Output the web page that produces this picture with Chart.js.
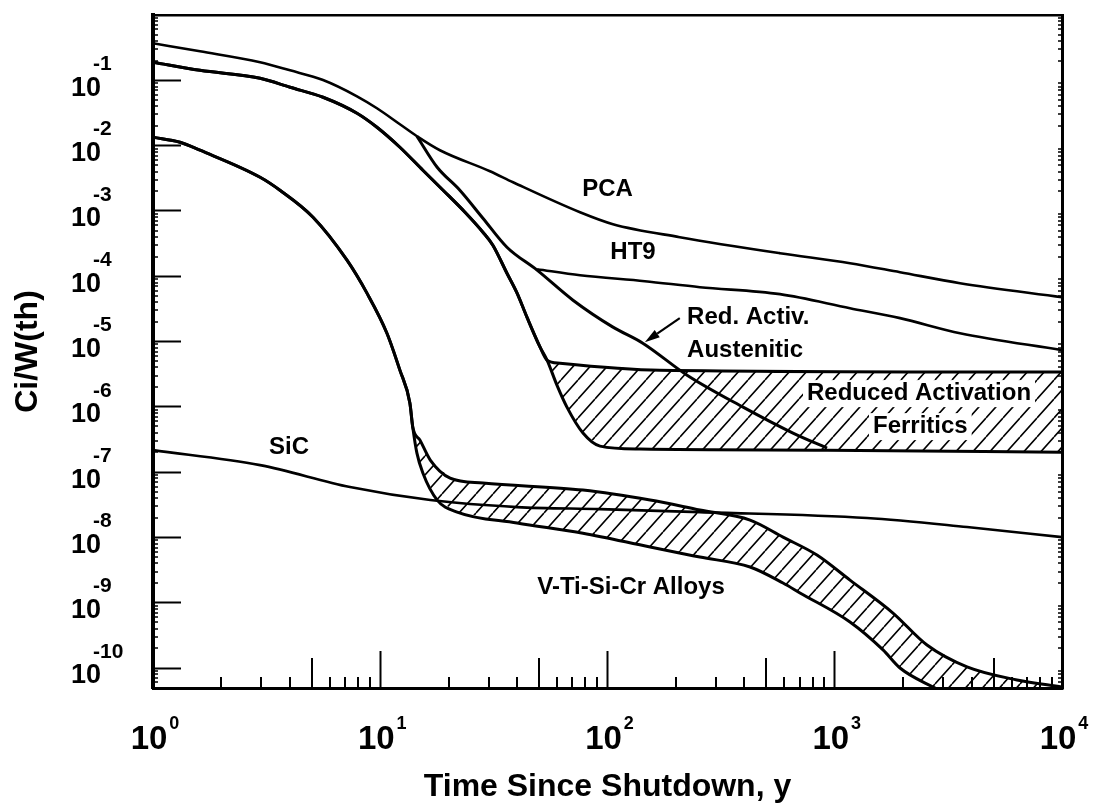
<!DOCTYPE html>
<html>
<head>
<meta charset="utf-8">
<script src="https://cdn.jsdelivr.net/npm/chart.js@4.4.1/dist/chart.umd.min.js"></script>
<style>
  html, body { margin: 0; padding: 0; background: #fff; }
  #wrap { width: 1096px; height: 806px; }
</style>
</head>
<body>
<div id="wrap"><canvas id="c" width="1096" height="806"></canvas></div>
<script>
// ---------------- DATA ----------------
const xTickValues = [1, 10, 100, 1000, 10000];
const yTickValues = [1e-1, 1e-2, 1e-3, 1e-4, 1e-5, 1e-6, 1e-7, 1e-8, 1e-9, 1e-10];
const minorMultipliers = [2, 3, 4, 5, 6, 7, 8, 9];

// PCA
const pcaTime = [1, 1.61, 2.96, 4.01, 5.60, 7.90, 9.67, 12.2, 14.5, 18.3, 30.4, 38.4, 75.7, 105.7, 208, 574, 1167, 1937, 3558, 10000];
const pcaAct  = [0.369, 0.278, 0.189, 0.142, 0.101, 0.0569, 0.0373, 0.02123, 0.01391, 0.00849, 0.00405, 0.002749, 9.54e-4, 6.26e-4, 3.96e-4, 2.25e-4, 1.58e-4, 1.15e-4, 7.82e-5, 4.77e-5];

// HT9
const ht9Time = [49.0, 75.7, 146, 255, 574, 1167, 1937, 3558, 10000];
const ht9Act  = [1.28e-4, 1.036e-4, 8.39e-5, 6.79e-5, 5.31e-5, 3.24e-5, 2.28e-5, 1.34e-5, 7.37e-6];

// Reduced activation austenitic
const ausTime = [14.5, 17.8, 22.4, 28.3, 36.1, 49.0, 70.5, 105.7, 143, 224, 395, 655, 925];
const ausAct  = [0.01391, 0.004664, 0.002074, 7.73e-4, 2.78e-4, 1.237e-4, 4.29e-5, 1.66e-5, 9.43e-6, 3.05e-6, 9.89e-7, 3.96e-7, 2.33e-7];

// Reduced activation ferritics (common part, upper and lower bounds)
const ferCommonTime = [1, 1.61, 2.96, 4.01, 5.60, 7.90, 9.67, 12.2, 15.4, 18.9, 23.6, 28.3, 31.3, 36.1, 40.0, 44.2, 50.5, 54.2];
const ferCommonAct  = [0.189, 0.142, 0.1074, 0.0782, 0.0550, 0.0313, 0.0191, 0.00944, 0.004195, 0.002074, 9.54e-4, 4.72e-4, 2.98e-4, 1.11e-4, 5.50e-5, 2.36e-5, 8.19e-6, 5.18e-6];
const ferUpperTime = [61.8, 170, 10000];
const ferUpperAct  = [4.66e-6, 3.64e-6, 3.40e-6];
const ferLowerTime = [59.9, 66.3, 78.0, 92.7, 139, 925, 10000];
const ferLowerAct  = [2.15e-6, 9.89e-7, 3.96e-7, 2.50e-7, 2.25e-7, 2.17e-7, 2.02e-7];

// V-Ti-Si-Cr alloys (common part, upper and lower bounds)
const vtiCommonTime = [1, 1.315, 1.61, 2.96, 3.62, 5.06, 7.14, 8.74, 10.7, 12.2, 13.5, 13.9];
const vtiCommonAct  = [0.01342, 0.01126, 0.00849, 0.003279, 0.002074, 8.01e-4, 1.76e-4, 5.50e-5, 1.34e-5, 3.64e-6, 1.14e-6, 4.89e-7];
const vtiUpperTime = [14.96, 16.6, 20.3, 28.3, 78.0, 154, 255, 424, 592, 835, 1167, 1804, 2546, 3820, 6339, 10000];
const vtiUpperAct  = [3.09e-7, 1.53e-7, 8.10e-8, 6.79e-8, 5.31e-8, 3.73e-8, 2.62e-8, 1.84e-8, 1.01e-8, 5.37e-9, 2.22e-9, 6.95e-10, 2.25e-10, 1.04e-10, 6.55e-11, 5.12e-11];
const vtiLowerTime = [14.5, 15.4, 17.8, 21.8, 40.0, 78.0, 154, 255, 424, 592, 703, 1167, 1631, 1937, 2706, 3558];
const vtiLowerAct  = [1.95e-7, 9.66e-8, 3.73e-8, 2.44e-8, 1.66e-8, 1.16e-8, 7.11e-9, 5.00e-9, 3.52e-9, 2.00e-9, 1.41e-9, 5.06e-10, 1.89e-10, 1.0e-10, 5.12e-11, 3.24e-11];

// SiC
const sicTime = [1, 2.96, 7.36, 16.6, 40.0, 92.7, 255, 1387, 3820, 10000];
const sicAct  = [2.17e-7, 1.28e-7, 5.90e-8, 3.73e-8, 2.91e-8, 2.71e-8, 2.44e-8, 1.98e-8, 1.44e-8, 1.01e-8];

// Text annotations (placed in data coordinates)
const annotations = [
  { text: 'PCA', x: 100, y: 2.15e-3, align: 'center' },
  { text: 'HT9', x: 129.5, y: 2.32e-4, align: 'center' },
  { text: 'Red. Activ.', x: 224, y: 2.36e-5, align: 'left' },
  { text: 'Austenitic', x: 224, y: 7.37e-6, align: 'left' },
  { text: 'Reduced Activation', x: 755, y: 1.62e-6, align: 'left', backdrop: true },
  { text: 'Ferritics', x: 1473, y: 5.06e-7, align: 'left', backdrop: true },
  { text: 'SiC', x: 3.97, y: 2.42e-7, align: 'center' },
  { text: 'V-Ti-Si-Cr Alloys', x: 126.9, y: 1.74e-9, align: 'center' }
];
const arrowFrom = { x: 208, y: 2.28e-5 };
const arrowTo = { x: 146, y: 9.77e-6 };

// ---------------- CHART ----------------
const FONT = "'Liberation Sans', Arial, Helvetica, sans-serif";
Chart.defaults.font.family = FONT;
Chart.defaults.color = '#000';

const pts = (xs, ys) => xs.map((x, i) => ({ x: x, y: ys[i] }));
const canvas = document.getElementById('c');
const ctx2d = canvas.getContext('2d');

function makeHatch() {
  const w = 17, h = 19;
  const tile = document.createElement('canvas');
  tile.width = w; tile.height = h;
  const g = tile.getContext('2d');
  g.strokeStyle = '#000';
  g.lineWidth = 1.6;
  g.beginPath();
  for (const k of [-1, 0, 1]) { g.moveTo(k * w, h); g.lineTo(k * w + w, 0); }
  g.stroke();
  return ctx2d.createPattern(tile, 'repeat');
}
const hatch = makeHatch();

const lineStyle = { borderColor: '#000', borderWidth: 3, pointRadius: 0, fill: false, cubicInterpolationMode: 'monotone', order: 1 };
const bandStyle = { borderWidth: 0, borderColor: 'rgba(0,0,0,0)', pointRadius: 0, tension: 0, fill: 'shape', backgroundColor: hatch, order: 2 };

const ferBand = pts(
  [ferCommonTime[ferCommonTime.length - 1]].concat(ferUpperTime, ferLowerTime.slice().reverse()),
  [ferCommonAct[ferCommonAct.length - 1]].concat(ferUpperAct, ferLowerAct.slice().reverse())
);
const vtiBand = pts(
  [vtiCommonTime[vtiCommonTime.length - 1]].concat(vtiUpperTime, vtiLowerTime.slice().reverse()),
  [vtiCommonAct[vtiCommonAct.length - 1]].concat(vtiUpperAct, vtiLowerAct.slice().reverse())
);

function zeroPad(s) { s.paddingLeft = 0; s.paddingRight = 0; s.paddingTop = 0; s.paddingBottom = 0; }

const decor = {
  id: 'decor',
  beforeDatasetsDraw(chart) {
    const { ctx, chartArea: a, scales: { x, y } } = chart;
    ctx.save();
    ctx.strokeStyle = '#000';
    ctx.lineWidth = 2;
    ctx.beginPath();
    for (let d = 0; d < 4; d++) {
      for (const m of minorMultipliers) {
        const px = Math.round(x.getPixelForValue(m * Math.pow(10, d)));
        const len = m === 5 ? 30 : 11;
        ctx.moveTo(px, a.bottom); ctx.lineTo(px, a.bottom - len);
      }
    }
    ctx.stroke();
    ctx.lineWidth = 1.5;
    ctx.beginPath();
    for (let d = -11; d < 0; d++) {
      for (const m of minorMultipliers) {
        const v = m * Math.pow(10, d);
        if (v <= y.min || v >= y.max) continue;
        const py = Math.round(y.getPixelForValue(v));
        ctx.moveTo(a.left, py); ctx.lineTo(a.left + 5, py);
        ctx.moveTo(a.right, py); ctx.lineTo(a.right - 4, py);
      }
    }
    ctx.stroke();
    ctx.restore();
  },
  afterDatasetsDraw(chart) {
    const { ctx, scales: { x, y } } = chart;
    ctx.save();
    ctx.font = 'bold 24px ' + FONT;
    ctx.textBaseline = 'middle';
    for (const an of annotations) {
      const px = x.getPixelForValue(an.x), py = y.getPixelForValue(an.y);
      ctx.textAlign = an.align;
      if (an.backdrop) {
        const w = ctx.measureText(an.text).width;
        const left = an.align === 'left' ? px : px - w / 2;
        ctx.fillStyle = '#fff';
        ctx.fillRect(left - 4, py - 13, w + 8, 27);
      }
      ctx.fillStyle = '#000';
      ctx.fillText(an.text, px, py);
    }
    // arrow
    const x1 = x.getPixelForValue(arrowFrom.x), y1 = y.getPixelForValue(arrowFrom.y);
    const x2 = x.getPixelForValue(arrowTo.x), y2 = y.getPixelForValue(arrowTo.y);
    const ang = Math.atan2(y2 - y1, x2 - x1);
    const hl = 15, hw = 4.5;
    const bx = x2 - hl * Math.cos(ang), by = y2 - hl * Math.sin(ang);
    ctx.strokeStyle = '#000'; ctx.lineWidth = 2.2;
    ctx.beginPath(); ctx.moveTo(x1, y1); ctx.lineTo(bx, by); ctx.stroke();
    ctx.fillStyle = '#000';
    ctx.beginPath();
    ctx.moveTo(x2, y2);
    ctx.lineTo(bx + hw * Math.sin(ang), by - hw * Math.cos(ang));
    ctx.lineTo(bx - hw * Math.sin(ang), by + hw * Math.cos(ang));
    ctx.closePath(); ctx.fill();
    ctx.restore();
  },
  afterDraw(chart) {
    const { ctx, scales: { x, y } } = chart;
    ctx.save();
    ctx.fillStyle = '#000';
    ctx.textBaseline = 'middle';
    ctx.textAlign = 'left';
    // y exponents
    const yo = y.options;
    const baseRight = y.right - (yo.grid.tickLength + yo.ticks.padding);
    ctx.font = 'bold 21px ' + FONT;
    y.ticks.forEach(t => {
      const py = y.getPixelForValue(t.value) + yo.ticks.labelOffset;
      ctx.fillText(String(Math.round(Math.log10(t.value))), baseRight - 8, py - 24);
    });
    // x exponents
    const xo = x.options;
    ctx.font = 'bold 33px ' + FONT;
    const baseW = ctx.measureText('10').width;
    const baseMid = x.top + xo.grid.tickLength + xo.ticks.padding + 33 * 1.2 / 2;
    ctx.font = 'bold 18px ' + FONT;
    x.ticks.forEach(t => {
      const px = x.getPixelForValue(t.value) + xo.ticks.labelOffset;
      ctx.fillText(String(Math.round(Math.log10(t.value))), px + baseW / 2 + 2, baseMid - 16);
    });
    ctx.restore();
  }
};

new Chart(ctx2d, {
  type: 'line',
  data: {
    datasets: [
      Object.assign({ label: 'PCA', data: pts(pcaTime, pcaAct) }, lineStyle, { borderWidth: 2.6 }),
      Object.assign({ label: 'HT9', data: pts(ht9Time, ht9Act) }, lineStyle, { borderWidth: 2.6 }),
      Object.assign({ label: 'Red. Activ. Austenitic', data: pts(ausTime, ausAct) }, lineStyle),
      Object.assign({ label: 'Reduced Activation Ferritics (upper)', data: pts(ferCommonTime.concat(ferUpperTime), ferCommonAct.concat(ferUpperAct)) }, lineStyle),
      Object.assign({ label: 'Reduced Activation Ferritics (lower)', data: pts(ferCommonTime.concat(ferLowerTime), ferCommonAct.concat(ferLowerAct)) }, lineStyle),
      Object.assign({ label: 'V-Ti-Si-Cr Alloys (upper)', data: pts(vtiCommonTime.concat(vtiUpperTime), vtiCommonAct.concat(vtiUpperAct)) }, lineStyle),
      Object.assign({ label: 'V-Ti-Si-Cr Alloys (lower)', data: pts(vtiCommonTime.concat(vtiLowerTime), vtiCommonAct.concat(vtiLowerAct)) }, lineStyle),
      Object.assign({ label: 'SiC', data: pts(sicTime, sicAct) }, lineStyle, { borderWidth: 2.6 }),
      Object.assign({ label: 'Reduced Activation Ferritics band', data: ferBand }, bandStyle),
      Object.assign({ label: 'V-Ti-Si-Cr Alloys band', data: vtiBand }, bandStyle)
    ]
  },
  options: {
    responsive: false,
    devicePixelRatio: 1,
    animation: false,
    events: [],
    layout: { padding: { top: 15, right: 34, bottom: 0, left: 0 } },
    plugins: { legend: { display: false }, tooltip: { enabled: false } },
    scales: {
      x: {
        type: 'logarithmic', position: 'bottom', min: 1, max: 10000,
        afterBuildTicks: s => { s.ticks = xTickValues.map(v => ({ value: v })); },
        afterFit: s => { s.height = 118; zeroPad(s); },
        ticks: {
          callback: () => '10', autoSkip: false, maxRotation: 0, minRotation: 0,
          font: { size: 33, weight: 'bold', lineHeight: 1.2 }, color: '#000',
          padding: 69, labelOffset: -4
        },
        grid: { drawOnChartArea: false, drawTicks: true, tickLength: -37, tickWidth: 2, tickColor: '#000' },
        border: { display: true, color: '#000', width: 3 },
        title: { display: true, text: 'Time Since Shutdown, y', font: { size: 32, weight: 'bold', lineHeight: 1.2 }, color: '#000', padding: { top: 0, bottom: 0 } }
      },
      y: {
        type: 'logarithmic', position: 'left', min: 4.94e-11, max: 1,
        afterBuildTicks: s => { s.ticks = yTickValues.map(v => ({ value: v })); },
        afterFit: s => { s.width = 153; zeroPad(s); },
        ticks: {
          callback: () => '10', autoSkip: false,
          font: { size: 27, weight: 'bold', lineHeight: 1.2 }, color: '#000',
          padding: 80, labelOffset: 8
        },
        grid: { drawOnChartArea: false, drawTicks: true, tickLength: -28, tickWidth: 2, tickColor: '#000' },
        border: { display: true, color: '#000', width: 4 },
        title: { display: true, text: 'Ci/W(th)', font: { size: 32, weight: 'bold', lineHeight: 1.2 }, color: '#000', padding: { top: 9, bottom: 0 } }
      },
      x2: {
        type: 'linear', axis: 'x', position: 'top', display: true,
        ticks: { display: false },
        grid: { drawOnChartArea: false, drawTicks: false },
        border: { display: true, color: '#000', width: 2.5 },
        afterFit: s => { s.height = 0; zeroPad(s); }
      },
      y2: {
        type: 'linear', axis: 'y', position: 'right', display: true,
        ticks: { display: false },
        grid: { drawOnChartArea: false, drawTicks: false },
        border: { display: true, color: '#000', width: 3 },
        afterFit: s => { s.width = 0; zeroPad(s); }
      }
    }
  },
  plugins: [decor]
});
</script>
</body>
</html>
